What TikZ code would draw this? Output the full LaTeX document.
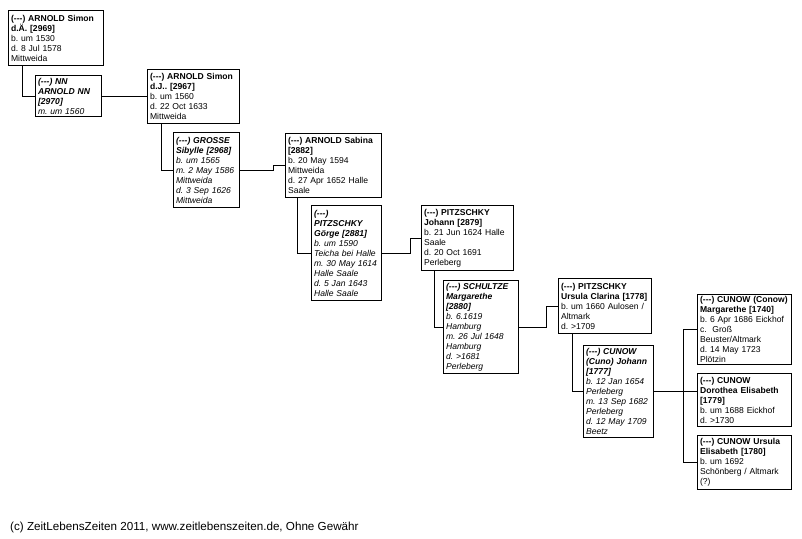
\documentclass[tikz,border=0pt]{standalone}
\usepackage{fontspec}
\setmainfont{Liberation Sans}
\usepackage{tikz}
\usetikzlibrary{positioning}
\frenchspacing
\tikzset{%
  person/.style={draw,line width=1.2pt,anchor=north west,align=left,inner xsep=2.5bp,inner ysep=2bp},
  spouse/.style={person,font=\fontsize{8.6}{10}\selectfont\itshape},
  link/.style={line width=0.9pt}%
}

\begin{document}
\begin{tikzpicture}[
    x=1bp, y=-1bp,
    font=\fontsize{8.6}{10}\selectfont
]
\useasboundingbox (0,0) rectangle (802,539);

\node[person, text width=90bp, minimum height=55bp] (arnA) at (8,10)
{\textbf{(-{}-{}-) ARNOLD Simon}\\\textbf{d.Ä. [2969]}\\b. um 1530\\d. 8 Jul 1578\\Mittweida};
\node[spouse, text width=61bp, minimum height=41bp] (nnA) at (35,75)
{\textbf{(-{}-{}-) NN}\\\textbf{ARNOLD NN}\\\textbf{[2970]}\\m. um 1560};

\node[person, text width=87bp, minimum height=54bp] (arnJ) at (147,69)
{\textbf{(-{}-{}-) ARNOLD Simon}\\\textbf{d.J.. [2967]}\\b. um 1560\\d. 22 Oct 1633\\Mittweida};
\node[spouse, text width=61bp, minimum height=75bp] (groS) at (173,132)
{\textbf{(-{}-{}-) GROSSE}\\\textbf{Sibylle [2968]}\\b. um 1565\\m. 2 May 1586\\Mittweida\\d. 3 Sep 1626\\Mittweida};

\node[person, text width=91bp, minimum height=64bp] (arnS) at (285,133)
{\textbf{(-{}-{}-) ARNOLD Sabina}\\\textbf{[2882]}\\b. 20 May 1594\\Mittweida\\d. 27 Apr 1652 Halle\\Saale};
\node[spouse, text width=65bp, minimum height=95bp] (pitG) at (311,205)
{\textbf{(-{}-{}-)}\\\textbf{PITZSCHKY}\\\textbf{Görge [2881]}\\b. um 1590\\Teicha bei Halle\\m. 30 May 1614\\Halle Saale\\d. 5 Jan 1643\\Halle Saale};

\node[person, text width=87bp, minimum height=65bp] (pitJ) at (421,205)
{\textbf{(-{}-{}-) PITZSCHKY}\\\textbf{Johann [2879]}\\b. 21 Jun 1624 Halle\\Saale\\d. 20 Oct 1691\\Perleberg};
\node[spouse, text width=70bp, minimum height=93bp] (schM) at (443,280)
{\textbf{(-{}-{}-) SCHULTZE}\\\textbf{Margarethe}\\\textbf{[2880]}\\b. 6.1619\\Hamburg\\m. 26 Jul 1648\\Hamburg\\d. >1681\\Perleberg};

\node[person, text width=88bp, minimum height=55bp] (pitU) at (558,278)
{\textbf{(-{}-{}-) PITZSCHKY}\\\textbf{Ursula Clarina [1778]}\\b. um 1660 Aulosen /\\Altmark\\d. >1709};
\node[spouse, text width=65bp, minimum height=92bp] (cunJ) at (583,345)
{\textbf{(-{}-{}-) CUNOW}\\\textbf{(Cuno) Johann}\\\textbf{[1777]}\\b. 12 Jan 1654\\Perleberg\\m. 13 Sep 1682\\Perleberg\\d. 12 May 1709\\Beetz};

% children
\node[person, text width=89bp, minimum height=69bp] (cunM) at (697,294)
{\textbf{(-{}-{}-) CUNOW (Conow)}\\\textbf{Margarethe [1740]}\\b. 6 Apr 1686 Eickhof\\c.\ \ Groß\\Beuster/Altmark\\d. 14 May 1723\\Plötzin};
\node[person, text width=89bp, minimum height=53bp] (cunD) at (697,373)
{\textbf{(-{}-{}-) CUNOW}\\\textbf{Dorothea Elisabeth}\\\textbf{[1779]}\\b. um 1688 Eickhof\\d. >1730};
\node[person, text width=89bp, minimum height=54bp] (cunU) at (697,435)
{\textbf{(-{}-{}-) CUNOW Ursula}\\\textbf{Elisabeth [1780]}\\b. um 1692\\Schönberg / Altmark\\(?)};

\node[anchor=west, inner sep=0pt, font=\fontsize{11.7}{13}\selectfont] (note) at (10,527)
{(c) ZeitLebensZeiten 2011, www.zeitlebenszeiten.de, Ohne Gewähr};

\draw[link] ([xshift=14bp]arnA.south west) |- (nnA.west);
\draw[link] (nnA.east) -- ++(34,0) |- (arnJ.west);
\draw[link] ([xshift=14bp]arnJ.south west) |- (groS.west);
\draw[link] (groS.east) -- ++(33,0) |- (arnS.west);
\draw[link] ([xshift=12bp]arnS.south west) |- (pitG.west);
\draw[link] (pitG.east) -- ++(28,0) |- (pitJ.west);
\draw[link] ([xshift=13bp]pitJ.south west) |- (schM.west);
\draw[link] (schM.east) -- ++(27,0) |- (pitU.west);
\draw[link] ([xshift=14bp]pitU.south west) |- (cunJ.west);
\draw[link] (cunJ.east) -- (cunJ.east -| cunD.west);
\draw[link] (cunM.west) -- ++(-14,0) |- (cunU.west);

\end{tikzpicture}
\end{document}
